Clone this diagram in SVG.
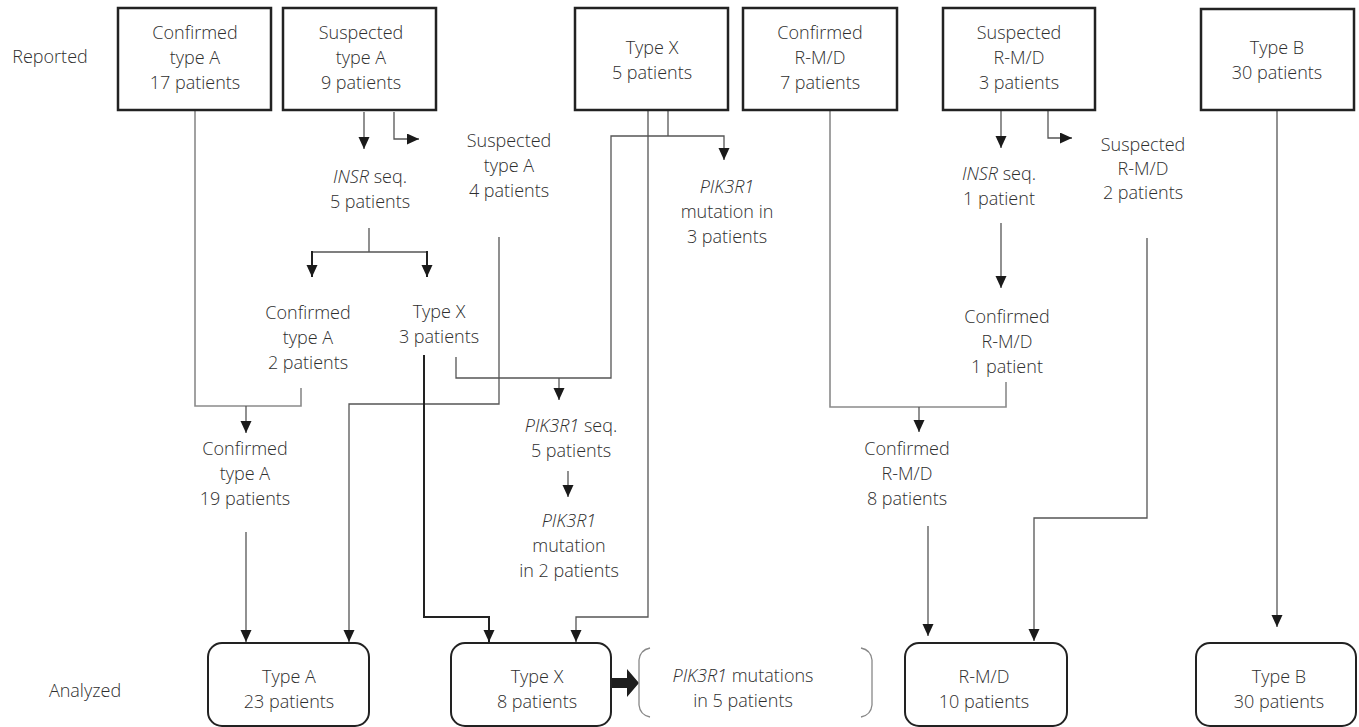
<svg xmlns="http://www.w3.org/2000/svg" width="1359" height="727" viewBox="0 0 1359 727">
<defs>
<style>
text{font-family:"Open Sans","Liberation Sans",sans-serif;font-size:18px;font-weight:300;fill:#2e2e2e;text-anchor:middle}
.it{font-style:italic}
.box{fill:#fff;stroke:#222;stroke-width:2.5}
.rbox{fill:#fff;stroke:#222;stroke-width:2}
.ln{fill:none;stroke:#555;stroke-width:1.3}
.gl{fill:none;stroke:#8a8a8a;stroke-width:1.6}
.bk{fill:none;stroke:#222;stroke-width:2}
.ar{marker-end:url(#ah)}
.br{fill:none;stroke:#888;stroke-width:1.3}
</style>
<marker id="ah" markerUnits="userSpaceOnUse" markerWidth="13" markerHeight="12" refX="12" refY="5.5" orient="auto">
<path d="M0,0 L12,5.5 L0,11 z" fill="#1a1a1a"/>
</marker>
</defs>
<rect width="1359" height="727" fill="#fff"/>

<g id="labels">
<text x="50" y="63">Reported</text>
<text x="85" y="697">Analyzed</text>
</g>

<g id="connectors">
<path class="gl" d="M195,111 V406 H301 V388"/>
<path class="ln ar" d="M246,406 V433"/>
<path class="ln ar" d="M364,112 V149"/>
<path class="ln ar" d="M394,112 V139 H419"/>
<path class="ln" d="M369,228 V252 M312,252 H427"/>
<path class="bk ar" d="M312,251 V277"/>
<path class="bk ar" d="M427,251 V277"/>
<path class="ln ar" d="M499,237 V404 H349 V642"/>
<path class="bk ar" d="M424,355 V617 H489 V642"/>
<path class="ln" d="M668,111 V136"/>
<path class="ln ar" d="M456,357 V378 H611 V136 H724 V160"/>
<path class="ln ar" d="M559,378 V400"/>
<path class="ln ar" d="M648,111 V617 H576 V642"/>
<path class="ln ar" d="M568,471 V497"/>
<path class="gl" d="M830,111 V407 H1006 V382"/>
<path class="ln ar" d="M919,407 V432"/>
<path class="ln ar" d="M1001,111 V148"/>
<path class="ln ar" d="M1048,111 V138 H1072"/>
<path class="ln ar" d="M1001,223 V288"/>
<path class="ln ar" d="M1147,238 V518 H1034 V641"/>
<path class="ln ar" d="M928,526 V636"/>
<path class="ln ar" d="M246,532 V642"/>
<path class="ln ar" d="M1277,111 V627"/>
<path d="M612,678 H627 V669 L639,683 L627,697 V688 H612 z" fill="#1e1e1e"/>
</g>

<g id="n-reported-confirmedA">
<rect class="box" x="118" y="8" width="153" height="102"/>
<text x="195" y="39">Confirmed</text>
<text x="195" y="64">type A</text>
<text x="195" y="89">17 patients</text>
</g>
<g id="n-reported-suspectedA">
<rect class="box" x="283" y="8" width="153" height="102"/>
<text x="361" y="39">Suspected</text>
<text x="361" y="64">type A</text>
<text x="361" y="89">9 patients</text>
</g>
<g id="n-reported-typeX">
<rect class="box" x="575" y="8" width="153" height="102"/>
<text x="652" y="54">Type X</text>
<text x="652" y="79">5 patients</text>
</g>
<g id="n-reported-confirmedRMD">
<rect class="box" x="743" y="8" width="154" height="102"/>
<text x="820" y="39">Confirmed</text>
<text x="820" y="64">R-M/D</text>
<text x="820" y="89">7 patients</text>
</g>
<g id="n-reported-suspectedRMD">
<rect class="box" x="943" y="8" width="152" height="102"/>
<text x="1019" y="39">Suspected</text>
<text x="1019" y="64">R-M/D</text>
<text x="1019" y="89">3 patients</text>
</g>
<g id="n-reported-typeB">
<rect class="box" x="1201" y="9" width="153" height="101"/>
<text x="1277" y="54">Type B</text>
<text x="1277" y="79">30 patients</text>
</g>

<g id="n-insr-seq-5">
<text x="370" y="183"><tspan class="it">INSR</tspan> seq.</text>
<text x="370" y="208">5 patients</text>
</g>
<g id="n-suspectedA-4">
<text x="509" y="147">Suspected</text>
<text x="509" y="172">type A</text>
<text x="509" y="197">4 patients</text>
</g>
<g id="n-pik3r1-mut-3">
<text x="727" y="193" class="it">PIK3R1</text>
<text x="727" y="218">mutation in</text>
<text x="727" y="243">3 patients</text>
</g>
<g id="n-insr-seq-1">
<text x="999" y="180"><tspan class="it">INSR</tspan> seq.</text>
<text x="999" y="205">1 patient</text>
</g>
<g id="n-suspectedRMD-2">
<text x="1143" y="151">Suspected</text>
<text x="1143" y="175">R-M/D</text>
<text x="1143" y="199">2 patients</text>
</g>
<g id="n-confirmedA-2">
<text x="308" y="319">Confirmed</text>
<text x="308" y="344">type A</text>
<text x="308" y="369">2 patients</text>
</g>
<g id="n-typeX-3">
<text x="439" y="318">Type X</text>
<text x="439" y="343">3 patients</text>
</g>
<g id="n-confirmedRMD-1">
<text x="1007" y="323">Confirmed</text>
<text x="1007" y="348">R-M/D</text>
<text x="1007" y="373">1 patient</text>
</g>
<g id="n-confirmedA-19">
<text x="245" y="455">Confirmed</text>
<text x="245" y="480">type A</text>
<text x="245" y="505">19 patients</text>
</g>
<g id="n-pik3r1-seq-5">
<text x="571" y="432"><tspan class="it">PIK3R1</tspan> seq.</text>
<text x="571" y="457">5 patients</text>
</g>
<g id="n-pik3r1-mut-2">
<text x="569" y="527" class="it">PIK3R1</text>
<text x="569" y="552">mutation</text>
<text x="569" y="577">in 2 patients</text>
</g>
<g id="n-confirmedRMD-8">
<text x="907" y="455">Confirmed</text>
<text x="907" y="480">R-M/D</text>
<text x="907" y="505">8 patients</text>
</g>

<g id="n-analyzed-typeA">
<rect class="rbox" x="208" y="643" width="161" height="83" rx="14"/>
<text x="289" y="683">Type A</text>
<text x="289" y="708">23 patients</text>
</g>
<g id="n-analyzed-typeX">
<rect class="rbox" x="451" y="643" width="160" height="83" rx="14"/>
<text x="537" y="683">Type X</text>
<text x="537" y="708">8 patients</text>
</g>
<g id="n-pik3r1-mutations-5">
<path class="br" d="M650,648 Q640,650 639,660 V705 Q640,715 650,717"/>
<path class="br" d="M861,648 Q871,650 872,660 V705 Q871,715 861,717"/>
<text x="743" y="682"><tspan class="it">PIK3R1</tspan> mutations</text>
<text x="743" y="707">in 5 patients</text>
</g>
<g id="n-analyzed-RMD">
<rect class="rbox" x="905" y="643" width="162" height="83" rx="14"/>
<text x="984" y="683">R-M/D</text>
<text x="984" y="708">10 patients</text>
</g>
<g id="n-analyzed-typeB">
<rect class="rbox" x="1196" y="643" width="160" height="83" rx="14"/>
<text x="1279" y="683">Type B</text>
<text x="1279" y="708">30 patients</text>
</g>
</svg>
